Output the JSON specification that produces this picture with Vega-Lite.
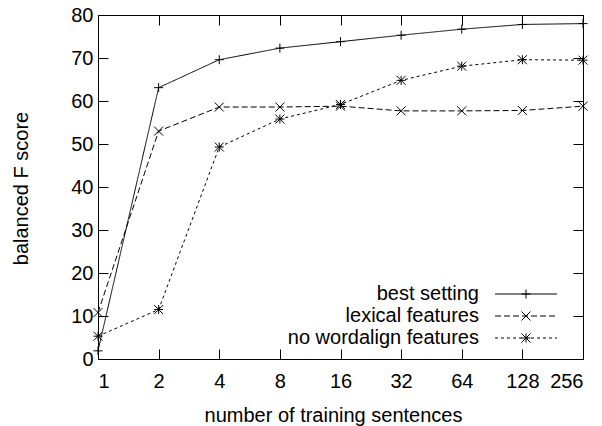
{
  "$schema": "https://vega.github.io/schema/vega-lite/v6.json",
  "width": 485,
  "height": 344,
  "autosize": {"type": "none"},
  "padding": {"left": 98, "top": 15, "right": 19, "bottom": 67},
  "background": "white",
  "config": {
    "font": "Liberation Sans",
    "view": {"stroke": "black", "strokeWidth": 1},
    "axis": {
      "grid": false,
      "domain": false,
      "tickColor": "black",
      "tickWidth": 1,
      "labelFont": "Liberation Sans",
      "labelFontSize": 20,
      "labelColor": "black",
      "titleFont": "Liberation Sans",
      "titleFontSize": 20,
      "titleFontWeight": "normal",
      "titleColor": "black"
    }
  },
  "data": {
    "values": [
      {"n": 1, "score": 1.9, "series": "best setting"},
      {"n": 2, "score": 63.1, "series": "best setting"},
      {"n": 4, "score": 69.6, "series": "best setting"},
      {"n": 8, "score": 72.3, "series": "best setting"},
      {"n": 16, "score": 73.8, "series": "best setting"},
      {"n": 32, "score": 75.3, "series": "best setting"},
      {"n": 64, "score": 76.7, "series": "best setting"},
      {"n": 128, "score": 77.8, "series": "best setting"},
      {"n": 256, "score": 78.0, "series": "best setting"},
      {"n": 1, "score": 10.8, "series": "lexical features"},
      {"n": 2, "score": 53.0, "series": "lexical features"},
      {"n": 4, "score": 58.6, "series": "lexical features"},
      {"n": 8, "score": 58.6, "series": "lexical features"},
      {"n": 16, "score": 58.8, "series": "lexical features"},
      {"n": 32, "score": 57.7, "series": "lexical features"},
      {"n": 64, "score": 57.7, "series": "lexical features"},
      {"n": 128, "score": 57.8, "series": "lexical features"},
      {"n": 256, "score": 58.8, "series": "lexical features"},
      {"n": 1, "score": 5.3, "series": "no wordalign features"},
      {"n": 2, "score": 11.5, "series": "no wordalign features"},
      {"n": 4, "score": 49.3, "series": "no wordalign features"},
      {"n": 8, "score": 55.8, "series": "no wordalign features"},
      {"n": 16, "score": 59.2, "series": "no wordalign features"},
      {"n": 32, "score": 64.8, "series": "no wordalign features"},
      {"n": 64, "score": 68.1, "series": "no wordalign features"},
      {"n": 128, "score": 69.6, "series": "no wordalign features"},
      {"n": 256, "score": 69.5, "series": "no wordalign features"}
    ]
  },
  "layer": [
    {
      "mark": {"type": "line", "color": "black", "strokeWidth": 1},
      "encoding": {
        "x": {
          "field": "n",
          "type": "quantitative",
          "scale": {"type": "log", "base": 2, "domain": [1, 256], "nice": false},
          "axis": {
            "orient": "bottom",
            "values": [1, 2, 4, 8, 16, 32, 64, 128, 256],
            "format": "d",
            "tickSize": -10,
            "labelPadding": 22,
            "title": "number of training sentences",
            "titleX": 235,
            "titleY": 62,
            "titleBaseline": "alphabetic",
            "titleAlign": "center"
          }
        },
        "y": {
          "field": "score",
          "type": "quantitative",
          "scale": {"domain": [0, 80], "nice": false},
          "axis": {
            "orient": "left",
            "values": [0, 10, 20, 30, 40, 50, 60, 70, 80],
            "tickSize": -10,
            "labelPadding": 15,
            "title": "balanced F score",
            "titleX": -71,
            "titleY": 173,
            "titleAngle": -90,
            "titleBaseline": "alphabetic",
            "titleAlign": "center"
          }
        },
        "strokeDash": {
          "field": "series",
          "type": "nominal",
          "scale": {"range": [[1, 0], [6, 3], [3, 3]]},
          "legend": {
            "orient": "none",
            "legendX": 418,
            "legendY": 269,
            "title": null,
            "padding": 0,
            "symbolType": "M-31,0L31,0",
            "symbolSize": 4,
            "symbolStrokeWidth": 1,
            "symbolStrokeColor": "black",
            "symbolFillColor": "transparent",
            "symbolOffset": 0,
            "labelOffset": -57,
            "labelAlign": "right",
            "labelFont": "Liberation Sans",
            "labelFontSize": 20,
            "labelColor": "black",
            "labelLimit": 400,
            "rowPadding": 2
          }
        }
      }
    },
    {
      "mark": {"type": "point", "filled": false, "color": "black", "strokeWidth": 1, "size": 4, "opacity": 1},
      "encoding": {
        "x": {
          "field": "n",
          "type": "quantitative",
          "scale": {"type": "log", "base": 2, "domain": [1, 256], "nice": false},
          "axis": {
            "orient": "top",
            "values": [1, 2, 4, 8, 16, 32, 64, 128, 256],
            "labels": false,
            "tickSize": -10,
            "title": null
          }
        },
        "y": {
          "field": "score",
          "type": "quantitative",
          "scale": {"domain": [0, 80], "nice": false},
          "axis": {
            "orient": "right",
            "values": [0, 10, 20, 30, 40, 50, 60, 70, 80],
            "labels": false,
            "tickSize": -10,
            "title": null
          }
        },
        "shape": {
          "field": "series",
          "type": "nominal",
          "scale": {
            "domain": ["best setting", "lexical features", "no wordalign features"],
            "range": [
              "M-4.5,0L4.5,0M0,-4.5L0,4.5",
              "M-4.5,-4.5L4.5,4.5M-4.5,4.5L4.5,-4.5",
              "M-4.5,0L4.5,0M0,-4.5L0,4.5M-4.5,-4.5L4.5,4.5M-4.5,4.5L4.5,-4.5"
            ]
          },
          "legend": {
            "orient": "none",
            "legendX": 418,
            "legendY": 269,
            "title": null,
            "padding": 0,
            "clipHeight": 20,
            "symbolSize": 4,
            "symbolStrokeWidth": 1,
            "symbolStrokeColor": "black",
            "symbolFillColor": "transparent",
            "symbolOffset": 0,
            "labelExpr": "''",
            "labelFont": "Liberation Sans",
            "labelFontSize": 20,
            "labelColor": "transparent",
            "rowPadding": 2
          }
        }
      }
    }
  ],
  "resolve": {"axis": {"x": "independent", "y": "independent"}}
}
